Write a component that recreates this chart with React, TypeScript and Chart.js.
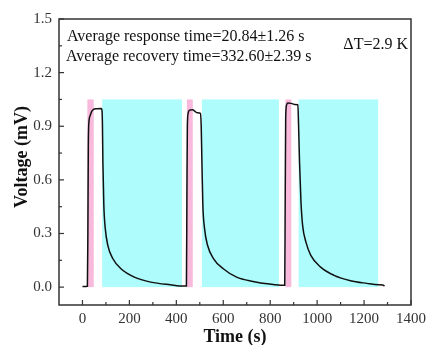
import React, { useEffect, useRef } from "react";
import { Chart, registerables } from "chart.js";

Chart.register(...registerables);

// Curve (time in s, voltage in mV)
const curveTime = [
  0, 10, 21, 23, 25, 28, 33, 40, 48, 60, 80, 83, 85, 87, 91, 97, 108, 129, 164, 221, 291, 375, 432, 443,
  445, 447, 450, 456, 470, 478, 490, 503, 506, 509, 513, 520, 533, 558, 600, 657, 727, 797, 854, 862,
  864, 866, 870, 875, 890, 905, 918, 921, 925, 931, 938, 952, 973, 1015, 1072, 1142, 1212, 1262, 1280, 1287,
];
const curveVoltage = [
  0.004, 0.004, 0.005, 0.3, 0.8, 0.93, 0.96, 0.985, 0.995, 0.998, 1.0, 0.99, 0.92, 0.7, 0.46, 0.33, 0.234, 0.16, 0.103, 0.056, 0.028, 0.013, 0.006, 0.006,
  0.5, 0.9, 0.97, 0.99, 0.993, 0.985, 0.975, 0.972, 0.9, 0.7, 0.46, 0.33, 0.234, 0.16, 0.103, 0.056, 0.032, 0.017, 0.01, 0.01,
  0.5, 0.95, 1.02, 1.03, 1.028, 1.022, 1.02, 0.9, 0.7, 0.48, 0.347, 0.253, 0.178, 0.112, 0.066, 0.036, 0.021, 0.013, 0.012, 0.006,
];

// Shaded intervals [start, end] in s
const pinkStart = [21, 445, 865];
const pinkEnd = [48, 470, 890];
const cyanStart = [84, 509, 921];
const cyanEnd = [424, 837, 1260];
const shadeTop = 1.05;

// Axis ticks
const xTicks = [0, 200, 400, 600, 800, 1000, 1200, 1400];
const xMinorTicks = [100, 300, 500, 700, 900, 1100, 1300];
const yTicks = [0.0, 0.3, 0.6, 0.9, 1.2, 1.5];
const yMinorTicks = [0.15, 0.45, 0.75, 1.05, 1.35];
const xMin = -100;
const xMax = 1400;
const yMin = -0.1;
const yMax = 1.5;

const annotationLines = [
  "Average response time=20.84\u00b11.26 s",
  "Average recovery time=332.60\u00b12.39 s",
];
const deltaLabel = "\u0394T=2.9 K";
const xTitle = "Time (s)";
const yTitle = "Voltage (mV)";

const SERIF = '"Liberation Serif", "Times New Roman", serif';

const shadePlugin = {
  id: "shade",
  beforeDatasetsDraw(chart: any) {
    const { ctx, scales } = chart;
    const x = scales.x;
    const y = scales.y;
    ctx.save();
    const drawRect = (a: number, b: number, color: string) => {
      const x0 = x.getPixelForValue(a);
      const x1 = x.getPixelForValue(b);
      const y0 = y.getPixelForValue(0);
      const y1 = y.getPixelForValue(shadeTop);
      ctx.fillStyle = color;
      ctx.fillRect(x0, y1, x1 - x0, y0 - y1);
    };
    pinkStart.forEach((s, i) => drawRect(s, pinkEnd[i], "#f9b9dc"));
    cyanStart.forEach((s, i) => drawRect(s, cyanEnd[i], "#aefcfc"));
    ctx.restore();
  },
};

const framePlugin = {
  id: "frame",
  afterDraw(chart: any) {
    const { ctx, chartArea, scales } = chart;
    const { left, right, top, bottom } = chartArea;
    const x = scales.x;
    const y = scales.y;
    ctx.save();
    ctx.strokeStyle = "#333";
    ctx.lineWidth = 1.5;
    ctx.strokeRect(left, top, right - left, bottom - top);
    ctx.lineWidth = 1.2;
    const seg = (x0: number, y0: number, x1: number, y1: number) => {
      ctx.beginPath();
      ctx.moveTo(x0, y0);
      ctx.lineTo(x1, y1);
      ctx.stroke();
    };
    xTicks.forEach((v) => {
      const p = x.getPixelForValue(v);
      seg(p, bottom, p, bottom - 5);
    });
    xMinorTicks.forEach((v) => {
      const p = x.getPixelForValue(v);
      seg(p, bottom, p, bottom - 3);
    });
    yTicks.forEach((v) => {
      const p = y.getPixelForValue(v);
      seg(left, p, left + 5, p);
    });
    yMinorTicks.forEach((v) => {
      const p = y.getPixelForValue(v);
      seg(left, p, left + 3, p);
    });

    ctx.fillStyle = "#111";
    ctx.font = "16px " + SERIF;
    ctx.textBaseline = "alphabetic";
    ctx.textAlign = "left";
    ctx.fillText(annotationLines[0], left + 8, top + 22);
    ctx.fillText(annotationLines[1], left + 7, top + 42);
    ctx.textAlign = "right";
    ctx.fillText(deltaLabel, right - 3, top + 30);

    ctx.font = "bold 18px " + SERIF;
    ctx.textAlign = "center";
    ctx.fillText(xTitle, (left + right) / 2, 342);
    ctx.save();
    ctx.translate(27, 157);
    ctx.rotate(-Math.PI / 2);
    ctx.fillText(yTitle, 0, 0);
    ctx.restore();
    ctx.restore();
  },
};

export default function App() {
  const canvasRef = useRef<HTMLCanvasElement | null>(null);

  useEffect(() => {
    if (!canvasRef.current) return;
    const points = curveTime.map((t, i) => ({ x: t, y: curveVoltage[i] }));
    const chart = new Chart(canvasRef.current, {
      type: "scatter",
      data: {
        datasets: [
          {
            data: points,
            showLine: true,
            borderColor: "#111",
            borderWidth: 1.5,
            pointRadius: 0,
            cubicInterpolationMode: "monotone",
            fill: false,
          } as any,
        ],
      },
      options: {
        animation: false,
        responsive: true,
        maintainAspectRatio: false,
        layout: { padding: { top: 19, right: 17, left: 0, bottom: 0 } },
        plugins: {
          legend: { display: false },
          tooltip: { enabled: false },
        },
        scales: {
          x: {
            type: "linear",
            min: xMin,
            max: xMax,
            grid: { display: false, drawTicks: false },
            border: { display: false },
            afterBuildTicks: (scale: any) => {
              scale.ticks = xTicks.map((v) => ({ value: v }));
            },
            afterFit: (scale: any) => {
              scale.height = 40;
            },
            ticks: {
              padding: 5,
              color: "#333",
              font: { family: SERIF, size: 15 },
              maxRotation: 0,
              autoSkip: false,
              callback: (v: any) => String(v),
            },
          },
          y: {
            type: "linear",
            min: yMin,
            max: yMax,
            grid: { display: false, drawTicks: false },
            border: { display: false },
            afterBuildTicks: (scale: any) => {
              scale.ticks = yTicks.map((v) => ({ value: v }));
            },
            afterFit: (scale: any) => {
              scale.width = 59;
            },
            ticks: {
              padding: 7,
              color: "#333",
              font: { family: SERIF, size: 15 },
              autoSkip: false,
              callback: (v: any) => Number(v).toFixed(1),
            },
          },
        },
      },
      plugins: [shadePlugin, framePlugin],
    });
    return () => chart.destroy();
  }, []);

  return (
    <div style={{ position: "fixed", left: 0, top: 0, width: 431, height: 345, background: "#fff" }}>
      <canvas ref={canvasRef} />
    </div>
  );
}
